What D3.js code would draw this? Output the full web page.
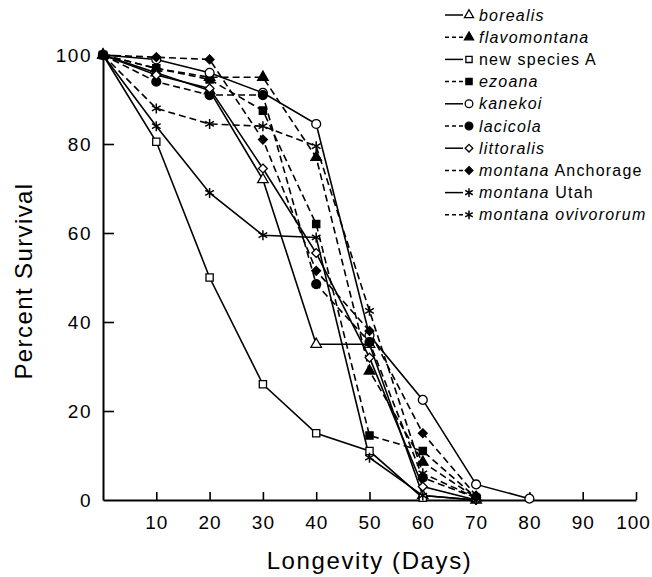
<!DOCTYPE html>
<html>
<head>
<meta charset="utf-8">
<script src="https://cdn.jsdelivr.net/npm/d3@7"></script>
<style>
  body { margin: 0; background: #fff; }
  text { font-family: "Liberation Sans", Arial, Helvetica, sans-serif; fill: #000; }
</style>
</head>
<body>
<div id="chart"></div>
<script>
// survival curves
var days = [0, 10, 20, 30, 40, 50, 60, 70, 80];

var borealis     = [100, 96, 92, 72, 35, 35, 1, 0];
var flavomontana = [100, 97, 95, 95, 77, 29, 8.5, 0.5];
var newSpeciesA  = [100, 80.5, 50, 26, 15, 11, 0.5];
var ezoana       = [100, 97, 94.5, 87.5, 62, 14.5, 11, 0.5];
var kanekoi      = [100, 99, 96, 91.5, 84.5, 37, 22.5, 3.5, 0.3];
var lacicola     = [100, 94, 91, 91, 48.5, 35.5, 5, 0.5];
var littoralis   = [100, 95.5, 92.5, 74.5, 55.5, 32, 3, 0];
var anchorage    = [100, 99.5, 99, 81, 51.5, 38, 15, 1];
var utah         = [100, 84, 69, 59.5, 59, 9.5, 1, 0];
var ovivororum   = [100, 88, 84.5, 84, 79.5, 42.5, 6, 0.5];

var seriesValues = [borealis, flavomontana, newSpeciesA, ezoana, kanekoi,
                    lacicola, littoralis, anchorage, utah, ovivororum];
var nameItalic = ["borealis", "flavomontana", "", "ezoana", "kanekoi",
                  "lacicola", "littoralis", "montana", "montana", "montana ovivororum"];
var namePlain  = ["", "", "new species A", "", "", "", "", " Anchorage", " Utah", ""];
var dashed     = [false, true, false, true, false, true, false, true, false, true];
var markers    = ["triangle", "triangle", "square", "square", "circle",
                  "circle", "diamond", "diamond", "star", "star"];
var filled     = [false, true, false, true, false, true, false, true, false, true];

var xTicks = [10, 20, 30, 40, 50, 60, 70, 80, 90, 100];
var yTicks = [0, 20, 40, 60, 80, 100];

var width = 652, height = 577;

var svg = d3.select("#chart")
	.append("svg")
	.attr("width", width)
	.attr("height", height);

var x = d3.scaleLinear().domain([0, 100]).range([103, 636]);
var y = d3.scaleLinear().domain([0, 100]).range([500, 55]);

// axes
var xAxis = svg.append("g")
	.attr("transform", "translate(0," + y(0) + ")")
	.call(d3.axisBottom(x).tickValues(xTicks).tickSize(-8).tickSizeOuter(0).tickPadding(16));
var yAxis = svg.append("g")
	.attr("transform", "translate(" + x(0) + ",0)")
	.call(d3.axisLeft(y).tickValues(yTicks).tickSize(-11).tickSizeOuter(0).tickPadding(9));

[xAxis, yAxis].forEach(function (a) {
	a.select(".domain").attr("stroke", "#000").attr("stroke-width", 2);
	a.selectAll(".tick line").attr("stroke", "#000").attr("stroke-width", 1.6);
	a.selectAll(".tick text")
		.style("font-size", "19px")
		.style("letter-spacing", "1.5px")
		.attr("fill", "#000");
});
xAxis.selectAll(".tick text").style("letter-spacing", "1px");
// last label sits at the window edge; nudge it in
xAxis.selectAll(".tick").filter(function (d) { return d === 100; }).select("text").attr("dx", "-3px");
yAxis.selectAll(".tick text").attr("dx", "-2px");
yAxis.selectAll(".tick").filter(function (d) { return d === 0; }).select("line").remove();

// axis titles
svg.append("text")
	.attr("x", (x(0) + x(100)) / 2)
	.attr("y", 569)
	.attr("text-anchor", "middle")
	.style("font-size", "24px")
	.style("letter-spacing", "1.6px")
	.text("Longevity (Days)");

svg.append("text")
	.attr("transform", "translate(32," + 281 + ") rotate(-90)")
	.attr("text-anchor", "middle")
	.style("font-size", "24px")
	.style("letter-spacing", "1.4px")
	.text("Percent Survival");

function symbolFor(kind) {
	if (kind === "triangle") return d3.symbol().type(d3.symbolTriangle).size(48);
	if (kind === "square") return d3.symbol().type(d3.symbolSquare).size(52);
	if (kind === "circle") return d3.symbol().type(d3.symbolCircle).size(62);
	if (kind === "diamond") return d3.symbol().type(d3.symbolDiamond2).size(50);
	return d3.symbol().type(d3.symbolAsterisk).size(70);
}

function drawMarker(g, i, px, py, scale) {
	var sym = symbolFor(markers[i]);
	var path = g.append("path")
		.attr("d", sym.size(sym.size()() * scale)())
		.attr("transform", "translate(" + px + "," + py + ")")
		.attr("stroke", "#000")
		.attr("stroke-width", 1.3);
	if (markers[i] === "star") {
		path.attr("fill", "none").attr("stroke-width", 1.5);
	} else {
		path.attr("fill", filled[i] ? "#000" : "#fff");
	}
}

var line = d3.line()
	.x(function (d, j) { return x(days[j]); })
	.y(function (d) { return y(d); });

// lines
var lines = svg.append("g");
seriesValues.forEach(function (vals, i) {
	lines.append("path")
		.attr("d", line(vals))
		.attr("fill", "none")
		.attr("stroke", "#000")
		.attr("stroke-width", 1.6)
		.attr("stroke-dasharray", dashed[i] ? "7,4" : null);
});

// markers
var marks = svg.append("g");
seriesValues.forEach(function (vals, i) {
	vals.forEach(function (v, j) {
		drawMarker(marks, i, x(days[j]), y(v), 1);
	});
});

// legend
var legend = svg.append("g").attr("class", "legend");
seriesValues.forEach(function (vals, i) {
	var ly = 15 + i * 22.2;
	legend.append("line")
		.attr("x1", 445).attr("x2", 463)
		.attr("y1", ly).attr("y2", ly)
		.attr("stroke", "#000")
		.attr("stroke-width", 1.5)
		.attr("stroke-dasharray", dashed[i] ? "4,3" : null);
	drawMarker(legend, i, 469, ly, 0.75);
	var t = legend.append("text")
		.attr("x", 479)
		.attr("y", ly + 5.5)
		.style("font-size", "16px")
		.style("letter-spacing", "1.2px");
	if (nameItalic[i]) t.append("tspan").style("font-style", "italic").text(nameItalic[i]);
	if (namePlain[i]) t.append("tspan").text(namePlain[i]);
});
</script>
</body>
</html>
